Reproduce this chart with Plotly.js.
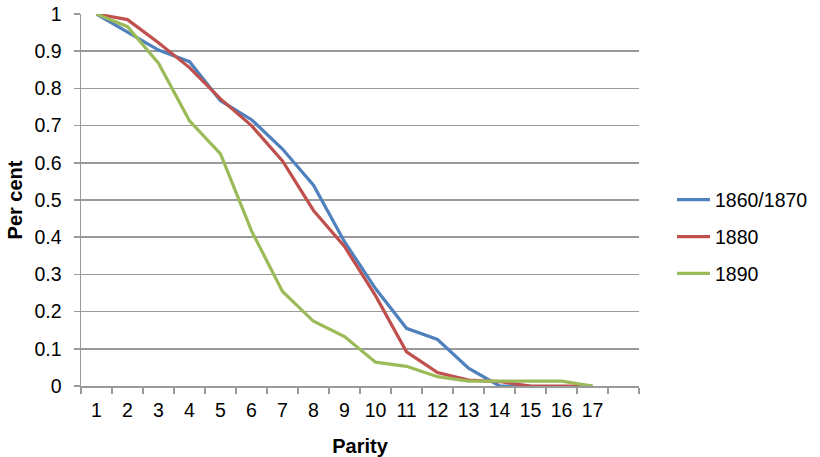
<!DOCTYPE html>
<html>
<head>
<meta charset="utf-8">
<script src="https://cdn.plot.ly/plotly-3.0.1.min.js"></script>
<style>html,body{margin:0;padding:0;background:#fff;}#chart{width:820px;height:457px;}</style>
</head>
<body>
<div id="chart"></div>
<script>
var parity = [1,2,3,4,5,6,7,8,9,10,11,12,13,14,15,16,17];
var tickLabels = ["1","2","3","4","5","6","7","8","9","10","11","12","13","14","15","16","17"];
var s1860 = [1.0,0.952,0.903,0.872,0.767,0.716,0.637,0.54,0.388,0.262,0.155,0.125,0.048,0.0,0.0];
var s1880 = [1.0,0.985,0.923,0.856,0.772,0.70,0.605,0.472,0.375,0.243,0.092,0.036,0.016,0.012,0.0,0.0,0.0];
var s1890 = [1.0,0.966,0.868,0.713,0.624,0.417,0.254,0.174,0.133,0.064,0.053,0.025,0.013,0.013,0.013,0.013,0.0];
var names = ["1860/1870","1880","1890"];
var colors = ["#4F81BD","#C0504D","#9BBB59"];
var series = [s1860, s1880, s1890];

var traces = series.map(function(s, i){
  return {
    x: parity.slice(0, s.length), y: s, type: 'scatter', mode: 'lines',
    name: names[i], legendgroup: 'g'+i,
    line: {color: colors[i], width: 3.2}
  };
});

var fam = 'Liberation Sans, Arial, Helvetica, sans-serif';
var font = {family: fam, size: 19.5, color: '#000'};
var layout = {
  width: 820, height: 457,
  margin: {l: 81, r: 181, t: 14, b: 71},
  paper_bgcolor: '#fff', plot_bgcolor: '#fff',
  font: font,
  showlegend: true,
  legend: {xref: 'container', yref: 'container', x: 0.8195, xanchor: 'left', y: 0.4814, yanchor: 'middle',
           traceorder: 'grouped', tracegroupgap: 8.5, itemwidth: 33,
           font: {family: fam, size: 19.5, color: '#000'}, bgcolor: 'rgba(0,0,0,0)'},
  xaxis: {
    range: [0.5, 18.5], tickmode: 'array', tickvals: parity, ticktext: tickLabels,
    ticks: '', showgrid: false, zeroline: false, ticklabelstandoff: 6,
    showline: true, linecolor: '#9a9a9a', linewidth: 1.5,
    minor: {tick0: 0.5, dtick: 1, ticks: 'outside', ticklen: 6, tickcolor: '#9a9a9a', tickwidth: 1.5, showgrid: false},
    tickfont: font,
    title: {text: 'Parity', font: {family: fam, size: 20, color: '#000', weight: 'bold'}, standoff: 19}
  },
  yaxis: {
    range: [0, 1.0001], dtick: 0.1, tick0: 0, tickmode: 'linear',
    showgrid: true, gridcolor: '#9a9a9a', gridwidth: 1.5, zeroline: false,
    showline: true, linecolor: '#9a9a9a', linewidth: 1.5,
    ticks: 'outside', ticklen: 6, tickcolor: '#9a9a9a', tickwidth: 1.5, ticklabelstandoff: 8,
    tickfont: font,
    title: {text: 'Per cent', font: {family: fam, size: 20, color: '#000', weight: 'bold'}, standoff: 6}
  }
};
Plotly.newPlot('chart', traces, layout, {staticPlot: true, displayModeBar: false});
</script>
</body>
</html>
